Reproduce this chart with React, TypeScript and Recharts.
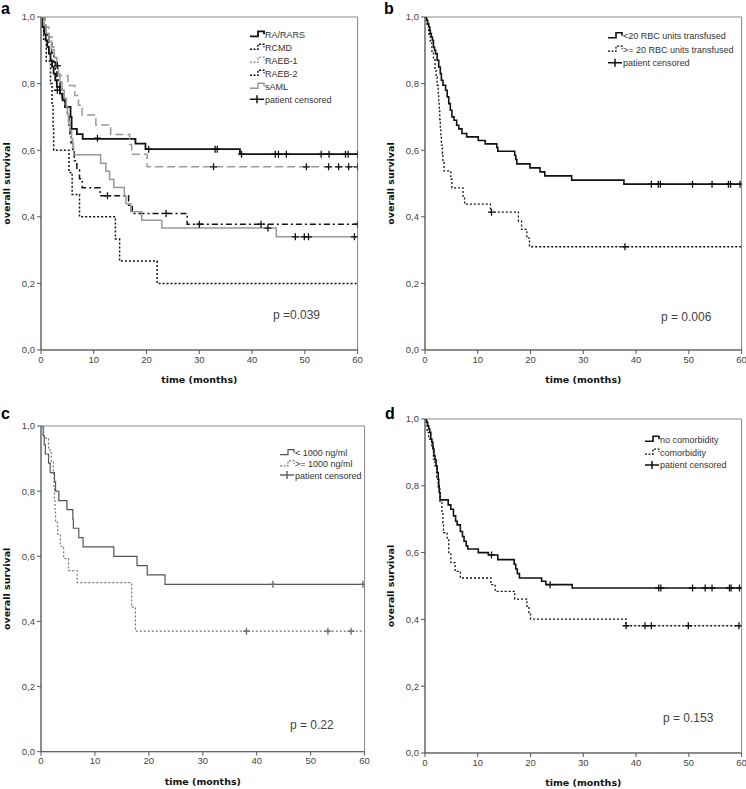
import { ComposedChart, Line, Scatter, XAxis, YAxis, ReferenceArea } from 'recharts';

type Pt = [number, number];

// time in months, overall survival
const TIME_TICKS = [0, 10, 20, 30, 40, 50, 60];
const SURV_TICKS = [0, 0.2, 0.4, 0.6, 0.8, 1];

// panel a: by MDS subtype
const A_RA_RARS: Pt[] = [[0, 1], [0.3, 0.97], [0.6, 0.95], [0.9, 0.93], [1.2, 0.91], [1.5, 0.89], [1.8, 0.87], [2.1, 0.85], [2.4, 0.83], [2.7, 0.81], [3.0, 0.79], [3.6, 0.77], [4.1, 0.75], [4.6, 0.73], [5.6, 0.7], [5.8, 0.664], [6.8, 0.648], [7.9, 0.634], [17.9, 0.62], [19.8, 0.603], [37.7, 0.588]];
const A_RCMD: Pt[] = [[0, 1], [0.5, 0.933], [1.0, 0.867], [1.8, 0.8], [2.1, 0.733], [2.3, 0.667], [2.4, 0.6], [5.3, 0.533], [5.9, 0.467], [7.3, 0.4], [14.1, 0.333], [14.9, 0.267], [22.0, 0.2]];
const A_RAEB1: Pt[] = [[0, 1], [0.8, 0.97], [1.5, 0.94], [2.1, 0.91], [2.5, 0.88], [2.8, 0.85], [3.2, 0.824], [5.1, 0.794], [6.4, 0.764], [7.1, 0.735], [7.8, 0.706], [10.4, 0.676], [13.2, 0.647], [16.8, 0.617], [17.2, 0.588], [20.1, 0.55]];
const A_RAEB2: Pt[] = [[0, 1], [0.5, 0.973], [1.0, 0.946], [1.5, 0.919], [2.0, 0.892], [2.4, 0.865], [2.7, 0.838], [3.0, 0.811], [3.6, 0.784], [4.0, 0.757], [4.5, 0.73], [5.0, 0.703], [5.3, 0.676], [5.5, 0.649], [5.7, 0.622], [6.0, 0.595], [6.3, 0.568], [6.8, 0.541], [7.3, 0.514], [7.8, 0.487], [11.2, 0.463], [16.6, 0.435], [17.3, 0.41], [27.7, 0.378]];
const A_SAML: Pt[] = [[0, 1], [0.5, 0.976], [1.0, 0.951], [1.5, 0.927], [2.0, 0.902], [2.5, 0.878], [3.0, 0.854], [3.3, 0.829], [3.6, 0.805], [4.0, 0.78], [4.4, 0.756], [4.8, 0.732], [5.0, 0.707], [5.2, 0.683], [5.5, 0.659], [5.8, 0.634], [6.0, 0.61], [6.2, 0.586], [11.3, 0.561], [12.3, 0.537], [13.0, 0.512], [13.8, 0.488], [15.8, 0.463], [16.1, 0.439], [17.0, 0.415], [19.1, 0.39], [22.9, 0.366], [44.6, 0.34]];
const A_CENSORED: Pt[] = [
  [3.1, 0.78], [3.1, 0.854], [10.7, 0.636], [20.4, 0.603], [33.0, 0.603], [33.4, 0.603], [38.0, 0.588], [44.4, 0.588], [45.0, 0.588], [46.5, 0.588], [53.1, 0.588], [54.6, 0.588], [57.7, 0.588], [58.2, 0.588], [60, 0.588],
  [32.7, 0.55], [50.3, 0.55], [54.5, 0.55], [56.4, 0.55], [58.3, 0.55], [60, 0.55],
  [12.6, 0.463], [23.7, 0.41], [30.0, 0.378], [41.7, 0.378], [60, 0.378],
  [43.0, 0.366], [48.2, 0.34], [49.9, 0.34], [50.7, 0.34], [59.4, 0.34],
];

// panel b: RBC transfusions
const B_LT20: Pt[] = [[0, 1], [0.3, 0.99], [0.5, 0.98], [0.7, 0.97], [0.9, 0.96], [1.0, 0.95], [1.2, 0.94], [1.4, 0.93], [1.6, 0.91], [1.8, 0.9], [2.0, 0.89], [2.3, 0.87], [2.6, 0.85], [2.9, 0.83], [3.1, 0.81], [3.4, 0.795], [3.9, 0.78], [4.2, 0.76], [4.5, 0.74], [4.8, 0.72], [5.1, 0.7], [5.5, 0.69], [6.0, 0.675], [6.4, 0.664], [7.0, 0.65], [7.9, 0.64], [10.1, 0.629], [11.4, 0.619], [13.6, 0.608], [13.8, 0.597], [17.0, 0.585], [17.2, 0.572], [17.4, 0.559], [19.9, 0.547], [21.8, 0.535], [22.7, 0.523], [27.8, 0.51], [37.7, 0.498]];
const B_GE20: Pt[] = [[0, 1], [0.4, 0.974], [0.7, 0.949], [1.0, 0.923], [1.3, 0.897], [1.6, 0.872], [1.9, 0.846], [2.1, 0.82], [2.3, 0.795], [2.5, 0.769], [2.6, 0.744], [2.7, 0.718], [2.8, 0.692], [2.9, 0.667], [3.0, 0.641], [3.1, 0.615], [3.3, 0.59], [3.4, 0.564], [3.6, 0.538], [4.9, 0.513], [5.1, 0.487], [7.2, 0.462], [7.5, 0.438], [12.4, 0.414], [17.7, 0.387], [18.3, 0.362], [19.3, 0.336], [19.8, 0.31]];
const B_CENSORED: Pt[] = [[42.9, 0.498], [44.2, 0.498], [44.6, 0.498], [50.7, 0.498], [54.4, 0.498], [57.5, 0.498], [57.9, 0.498], [59.7, 0.498], [12.6, 0.414], [37.9, 0.31]];

// panel c: serum ferritin
const C_LT1000: Pt[] = [[0, 1], [0.4, 0.971], [0.6, 0.943], [0.8, 0.914], [1.4, 0.886], [1.7, 0.857], [2.5, 0.829], [2.7, 0.8], [3.3, 0.771], [4.8, 0.743], [5.9, 0.714], [6.0, 0.686], [7.0, 0.657], [7.8, 0.629], [13.5, 0.6], [17.8, 0.571], [19.7, 0.543], [23.0, 0.514]];
const C_GE1000: Pt[] = [[0, 1], [0.5, 0.963], [1.4, 0.926], [1.9, 0.889], [2.3, 0.852], [2.4, 0.815], [2.5, 0.778], [2.6, 0.741], [2.7, 0.704], [3.1, 0.667], [3.6, 0.63], [4.2, 0.593], [5.1, 0.556], [6.7, 0.519], [16.8, 0.444], [17.5, 0.37]];
const C_CENSORED: Pt[] = [[43.0, 0.514], [59.7, 0.514], [38.1, 0.37], [53.2, 0.37], [57.5, 0.37]];

// panel d: comorbidity
const D_NONE: Pt[] = [[0, 1], [0.3, 0.99], [0.5, 0.98], [0.7, 0.97], [0.9, 0.96], [1.1, 0.94], [1.3, 0.93], [1.5, 0.91], [1.7, 0.89], [1.9, 0.878], [2.1, 0.86], [2.3, 0.84], [2.5, 0.82], [2.6, 0.8], [2.7, 0.78], [2.85, 0.758], [4.4, 0.743], [4.9, 0.73], [5.4, 0.71], [5.8, 0.694], [6.1, 0.683], [6.7, 0.663], [7.1, 0.648], [7.4, 0.634], [7.8, 0.62], [8.1, 0.611], [10.1, 0.6], [12.0, 0.593], [13.8, 0.579], [16.9, 0.565], [17.2, 0.551], [17.5, 0.537], [17.9, 0.524], [22.1, 0.514], [22.9, 0.504], [27.9, 0.494]];
const D_COMORB: Pt[] = [[0, 1], [0.4, 0.96], [0.7, 0.94], [1.25, 0.92], [1.6, 0.88], [1.9, 0.86], [2.2, 0.82], [2.5, 0.79], [2.85, 0.75], [3.2, 0.72], [3.4, 0.69], [3.5, 0.66], [4.2, 0.64], [4.5, 0.6], [4.9, 0.57], [5.7, 0.544], [6.7, 0.524], [12.5, 0.504], [13.3, 0.484], [17.0, 0.461], [19.3, 0.44], [19.7, 0.42], [20.0, 0.401], [38.1, 0.381]];
const D_CENSORED: Pt[] = [[12.6, 0.593], [23.7, 0.504], [44.3, 0.494], [44.7, 0.494], [50.7, 0.494], [53.1, 0.494], [54.4, 0.494], [57.7, 0.494], [58.0, 0.494], [59.6, 0.494], [38.1, 0.381], [41.7, 0.381], [42.9, 0.381], [49.9, 0.381], [59.5, 0.381]];

type Series = { name: string; pts: Pt[]; color: string; dash?: string; width: number };

const FONT = '"Liberation Sans", Arial, sans-serif';
const BOLD = '"DejaVu Sans", Verdana, sans-serif';

function toRows(pts: Pt[]) {
  const rows = pts.map(([t, s]) => ({ t, s }));
  const last = pts[pts.length - 1];
  if (last[0] < 60) rows.push({ t: 60, s: last[1] });
  return rows;
}

const Plus = (props: any) => {
  const { cx, cy, fill } = props;
  if (cx == null || cy == null) return null;
  return <path d={`M${cx - 3.5},${cy}H${cx + 3.5}M${cx},${cy - 3.5}V${cy + 3.5}`} stroke={fill} strokeWidth={1.3} fill="none" />;
};

const fmt = (v: number) => v.toFixed(1).replace('.', ',');

const YW = 41;
const MT = 10;
const MR = 10;
const XH = 40;

function Panel(props: { x: number; y: number; w: number; h: number; series: Series[]; censored: Pt[]; censorColor: string }) {
  const { x, y, w, h, series, censored, censorColor } = props;
  const tick = { fontSize: 9.5, fill: '#444', fontFamily: FONT };
  return (
    <div style={{ position: 'absolute', left: x - YW, top: y - MT }}>
      <ComposedChart width={YW + w + MR} height={MT + h + XH} margin={{ top: MT, right: MR, bottom: 0, left: 0 }}>
        <XAxis
          type="number"
          dataKey="t"
          domain={[0, 60]}
          ticks={TIME_TICKS}
          allowDataOverflow
          height={XH}
          tickSize={4}
          tick={tick}
          stroke="#555"
          label={{ value: 'time (months)', position: 'insideBottom', offset: 6.5, style: { fontFamily: BOLD, fontWeight: 'bold', fontSize: 9.5, fill: '#111' } }}
        />
        <YAxis
          type="number"
          dataKey="s"
          domain={[0, 1]}
          ticks={SURV_TICKS}
          allowDataOverflow
          width={YW}
          tickSize={4}
          tick={tick}
          tickFormatter={fmt}
          stroke="#555"
          label={{ value: 'overall survival', angle: -90, position: 'insideLeft', offset: 7, style: { textAnchor: 'middle', fontFamily: BOLD, fontWeight: 'bold', fontSize: 9.5, fill: '#111' } }}
        />
        <ReferenceArea x1={0} x2={60} y1={0} y2={1} fill="none" stroke="#888" strokeWidth={1} />
        {series.map((s) => (
          <Line
            key={s.name}
            data={toRows(s.pts)}
            dataKey="s"
            type="stepAfter"
            stroke={s.color}
            strokeWidth={s.width}
            strokeDasharray={s.dash}
            dot={false}
            activeDot={false}
            isAnimationActive={false}
          />
        ))}
        <Scatter data={censored.map(([t, s]) => ({ t, s }))} fill={censorColor} shape={<Plus />} isAnimationActive={false} />
      </ComposedChart>
    </div>
  );
}

const PANEL_A: Series[] = [
  { name: 'RA/RARS', pts: A_RA_RARS, color: '#111', width: 1.8 },
  { name: 'RCMD', pts: A_RCMD, color: '#111', dash: '2 2', width: 1.5 },
  { name: 'RAEB-1', pts: A_RAEB1, color: '#999', dash: '8 4', width: 1.5 },
  { name: 'RAEB-2', pts: A_RAEB2, color: '#111', dash: '6 3 2 3', width: 1.5 },
  { name: 'sAML', pts: A_SAML, color: '#999', width: 1.5 },
];
const PANEL_B: Series[] = [
  { name: '<20 RBC units transfused', pts: B_LT20, color: '#111', width: 1.6 },
  { name: '>= 20 RBC units transfused', pts: B_GE20, color: '#111', dash: '2 2', width: 1.3 },
];
const PANEL_C: Series[] = [
  { name: '< 1000 ng/ml', pts: C_LT1000, color: '#555', width: 1.2 },
  { name: '>= 1000 ng/ml', pts: C_GE1000, color: '#777', dash: '2 2', width: 1.2 },
];
const PANEL_D: Series[] = [
  { name: 'no comorbidity', pts: D_NONE, color: '#111', width: 1.6 },
  { name: 'comorbidity', pts: D_COMORB, color: '#111', dash: '2 2', width: 1.3 },
];

function Legend(props: { x: number; y: number; gap: number; series: Series[]; censorColor: string; fontSize: number }) {
  const { x, y, gap, series, censorColor, fontSize } = props;
  return (
    <g fontFamily={FONT} fontSize={fontSize} fill="#333">
      {series.map((s, i) => {
        const ry = y + i * gap;
        return (
          <g key={s.name}>
            <path d={`M${x},${ry + 2}H${x + 8}V${ry - 3}H${x + 14}V${ry}`} stroke={s.color} strokeWidth={s.width} strokeDasharray={s.dash ? '2 1.5' : undefined} fill="none" />
            <text x={x + 15} y={ry + 3.5}>{s.name}</text>
          </g>
        );
      })}
      <g>
        <path d={`M${x},${y + series.length * gap}H${x + 14}M${x + 7},${y + series.length * gap - 4}V${y + series.length * gap + 4}`} stroke={censorColor} strokeWidth={1.5} fill="none" />
        <text x={x + 15} y={y + series.length * gap + 3.5}>patient censored</text>
      </g>
    </g>
  );
}

export default function App() {
  return (
    <div style={{ position: 'absolute', left: 0, top: 0, width: 746, height: 789, background: '#fff', overflow: 'hidden' }}>
      <Panel x={40.7} y={17} w={316.6} h={333} series={PANEL_A} censored={A_CENSORED} censorColor="#111" />
      <Panel x={424.7} y={17} w={316.6} h={333} series={PANEL_B} censored={B_CENSORED} censorColor="#111" />
      <Panel x={40.7} y={426} w={323.6} h={325.7} series={PANEL_C} censored={C_CENSORED} censorColor="#666" />
      <Panel x={424.7} y={419.3} w={316.6} h={334} series={PANEL_D} censored={D_CENSORED} censorColor="#111" />
      <svg width={746} height={789} style={{ position: 'absolute', left: 0, top: 0, pointerEvents: 'none' }}>
        <g fontFamily={FONT} fontWeight="bold" fontSize={16} fill="#000">
          <text x={1} y={14}>a</text>
          <text x={384} y={14}>b</text>
          <text x={1} y={419}>c</text>
          <text x={385} y={419}>d</text>
        </g>
        <Legend x={250} y={34.3} gap={13} series={PANEL_A} censorColor="#111" fontSize={9} />
        <Legend x={608} y={35.7} gap={13.5} series={PANEL_B} censorColor="#111" fontSize={9} />
        <Legend x={280} y={452.7} gap={11.2} series={PANEL_C} censorColor="#666" fontSize={9} />
        <Legend x={645} y={439.3} gap={12.8} series={PANEL_D} censorColor="#111" fontSize={9} />
        <g fontFamily={FONT} fontSize={12} fill="#444">
          <text x={273} y={319}>p =0.039</text>
          <text x={661} y={321}>p = 0.006</text>
          <text x={290} y={729}>p = 0.22</text>
          <text x={663} y={722}>p = 0.153</text>
        </g>
      </svg>
    </div>
  );
}
